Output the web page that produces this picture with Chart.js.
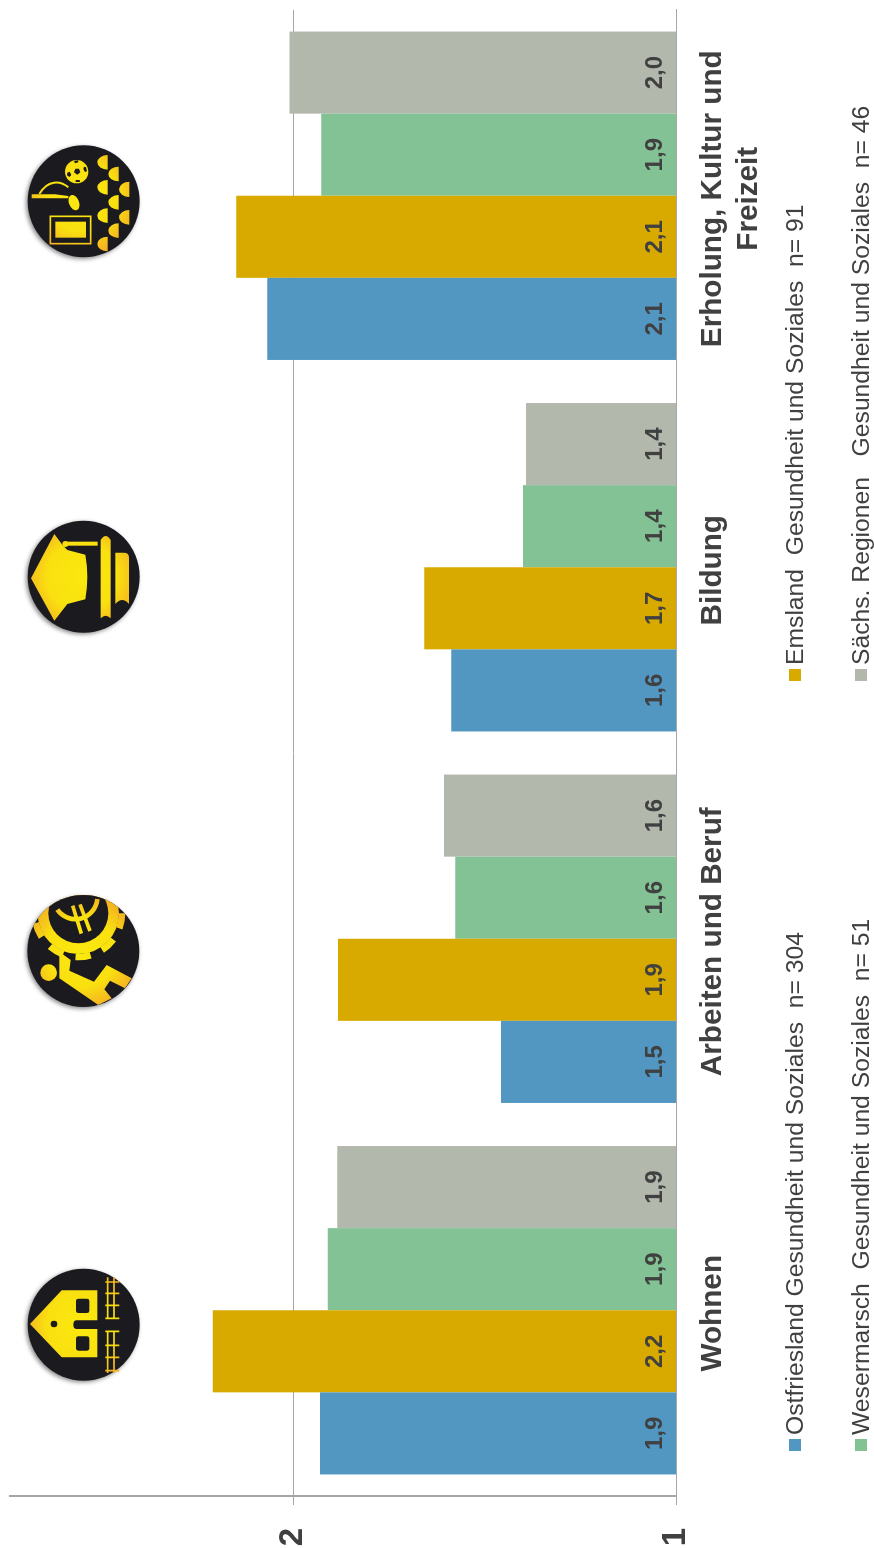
<!DOCTYPE html>
<html>
<head>
<meta charset="utf-8">
<script src="https://cdn.jsdelivr.net/npm/chart.js@4"></script>
<style>
  html, body { margin: 0; padding: 0; background: #fff; overflow: hidden; width: 874px; height: 1548px; }
  /* the whole chart is turned on its side in the original */
  #wrap { position: absolute; left: 0; top: 0; width: 1548px; height: 874px; transform-origin: 0 0; transform: translate(0, 1548px) rotate(-90deg); }
  svg.icon { position: absolute; width: 150px; height: 140px; left: 10px; }
</style>
</head>
<body>
<div id="wrap"><canvas id="myChart" width="1548" height="874"></canvas></div>

<svg width="0" height="0" style="position:absolute">
  <defs>
    <radialGradient id="gold" gradientUnits="userSpaceOnUse" cx="215" cy="200" r="175">
      <stop offset="0" stop-color="#fbe90e"/>
      <stop offset="0.6" stop-color="#f9e010"/>
      <stop offset="1" stop-color="#f4b022"/>
    </radialGradient>
    <clipPath id="disc"><circle cx="220" cy="198" r="168"/></clipPath>
    <filter id="soft" x="-20%" y="-20%" width="140%" height="140%"><feGaussianBlur stdDeviation="6"/></filter>
  </defs>
</svg>

<!-- Erholung -->
<svg class="icon" style="top:130px" viewBox="0 0 450 420">
  <circle cx="216" cy="219" r="168" fill="#8a8a8a" filter="url(#soft)"/>
  <circle cx="221" cy="214" r="168" fill="#1b1a1f"/>
  <g fill="url(#gold)">
    <circle cx="200" cy="125" r="35"/>
    <path d="M293 75v44a31 22 0 0 1 0-44zM326 110v44a31 22 0 0 1 0-44zM293 150v44a31 22 0 0 1 0-44zM358 155v46a31 23 0 0 1 0-46zM326 195v44a31 22 0 0 1 0-44zM293 235v44a31 22 0 0 1 0-44zM358 240v44a31 22 0 0 1 0-44zM326 280v44a31 22 0 0 1 0-44zM293 320v44a31 22 0 0 1 0-44z"/>
    <path d="M65 193h70l40 5v7h-110z"/>
    <ellipse cx="192" cy="218" rx="15" ry="24" transform="rotate(-22 192 218)"/>
    <rect x="136" y="275" width="92" height="48"/>
  </g>
  <path d="M88 192C112 150 150 150 175 172" fill="none" stroke="url(#gold)" stroke-width="6"/>
  <rect x="121" y="259" width="121" height="82" fill="none" stroke="url(#gold)" stroke-width="5"/>
  <g fill="#1b1a1f">
    <path d="M196 116l11 0 4 11-9 7-10-7zM172 128l7-3 5 10-6 6-7-5zM222 110l6 2 3 12-6 2-5-9zM192 93l12-2 1 6-10 3zM197 150l12 0 1 6-13 0z"/>
  </g>
</svg>

<!-- Bildung -->
<svg class="icon" style="top:510px" viewBox="0 0 450 420">
  <circle cx="216" cy="205" r="168" fill="#8a8a8a" filter="url(#soft)"/>
  <circle cx="221" cy="200" r="168" fill="#1b1a1f"/>
  <g fill="url(#gold)">
    <path d="M63 205L133 72 158 106 172 120 226 134Q238 200 226 268L172 282 133 332z"/>
    <rect x="165" y="95" width="98" height="12"/>
    <circle cx="166" cy="102" r="9"/>
    <path d="M272 90q15-24 30 0V325q-15-16-30 0z"/>
    <path d="M316 128h26q15 0 15 15V282q-20-24-41 0z"/>
  </g>
</svg>

<!-- Arbeiten -->
<svg class="icon" style="top:885px" viewBox="0 0 450 420">
  <circle cx="216" cy="203" r="168" fill="#8a8a8a" filter="url(#soft)"/>
  <circle cx="220" cy="198" r="168" fill="#1b1a1f"/>
  <g clip-path="url(#disc)">
    <circle cx="205" cy="85" r="122" fill="url(#gold)"/>
    <circle cx="205" cy="85" r="131" fill="none" stroke="url(#gold)" stroke-width="20" stroke-dasharray="46 38"/>
    <circle cx="205" cy="85" r="90" fill="#1b1a1f"/>
    <path d="M142 74A66 66 0 0 0 262 42" fill="none" stroke="url(#gold)" stroke-width="14"/>
    <path d="M188 62L214 146M210 58L240 138" fill="none" stroke="url(#gold)" stroke-width="11"/>
    <circle cx="116" cy="263" r="25" fill="url(#gold)"/>
    <path d="M148 200L148 280 265 360 305 340 283 313 300 287 345 310 365 280 290 240 252 290 178 257 182 225z" fill="url(#gold)"/>
  </g>
</svg>

<!-- Wohnen -->
<svg class="icon" style="top:1258px" viewBox="0 0 450 420">
  <circle cx="216" cy="205" r="168" fill="#8a8a8a" filter="url(#soft)"/>
  <circle cx="221" cy="200" r="168" fill="#1b1a1f"/>
  <path fill="url(#gold)" d="M60 198L155 97H262V187H200Q190 187 190 200T200 213H262V298H155z"/>
  <g fill="#1b1a1f">
    <rect x="198" y="122" width="40" height="43" rx="7"/>
    <rect x="198" y="235" width="40" height="43" rx="7"/>
    <circle cx="132" cy="198" r="10"/>
  </g>
  <path fill="none" stroke="url(#gold)" stroke-width="5" d="M293 58V183M312 58V183M293 218V345M312 218V345M286 72H328M286 106H328M286 142H328M286 181H328M286 220H328M286 262H328M286 298H328M286 338H328"/>
</svg>

<script>
const categories = ['Wohnen', 'Arbeiten und Beruf', 'Bildung', ['Erholung, Kultur und', 'Freizeit']];
const seriesLabels = [
  'Ostfriesland Gesundheit und Soziales  n= 304',
  'Emsland  Gesundheit und Soziales  n= 91',
  'Wesermarsch  Gesundheit und Soziales  n= 51',
  'Sächs. Regionen   Gesundheit und Soziales  n= 46'
];
const ostfriesland = [1.93, 1.457, 1.587, 2.068];
const emsland = [2.21, 1.883, 1.658, 2.149];
const wesermarsch = [1.91, 1.577, 1.40, 1.927];
const saechsRegionen = [1.885, 1.606, 1.392, 2.01];
const valueTicks = [1, 2];
const seriesColors = ['#5296c2', '#d8aa00', '#82c294', '#b3b8ad'];

const textColor = '#404040';
const lineColor = '#a6a6a6';
const fontName = '"Liberation Sans", Arial, sans-serif';

// value printed at the foot of each bar
const barLabels = {
  id: 'barLabels',
  afterDatasetsDraw(chart) {
    const ctx = chart.ctx;
    const base = chart.scales.y.getPixelForValue(1);
    ctx.save();
    ctx.font = 'bold 24px ' + fontName;
    ctx.fillStyle = textColor;
    ctx.textAlign = 'center';
    ctx.textBaseline = 'alphabetic';
    chart.data.datasets.forEach((ds, i) => {
      chart.getDatasetMeta(i).data.forEach((bar, j) => {
        ctx.fillText(ds.data[j].toFixed(1).replace('.', ','), bar.x, base - 14);
      });
    });
    ctx.restore();
  }
};

// two column legend under the category labels
const legendGrid = {
  id: 'legendGrid',
  afterDraw(chart) {
    const ctx = chart.ctx;
    const colX = [97, 867];
    const rowBase = [803, 869];
    ctx.save();
    ctx.font = '24.7px ' + fontName;
    ctx.textBaseline = 'alphabetic';
    ctx.textAlign = 'left';
    chart.data.datasets.forEach((ds, i) => {
      const x = colX[i % 2];
      const y = rowBase[Math.floor(i / 2)];
      ctx.fillStyle = ds.backgroundColor;
      ctx.fillRect(x, y - 14, 12, 12);
      ctx.fillStyle = textColor;
      ctx.fillText(ds.label, x + 16, y);
    });
    ctx.restore();
  }
};

const data = {
  labels: categories,
  datasets: [ostfriesland, emsland, wesermarsch, saechsRegionen].map((values, i) => ({
    label: seriesLabels[i],
    data: values,
    backgroundColor: seriesColors[i],
    barPercentage: 1,
    categoryPercentage: 0.884
  }))
};

const config = {
  type: 'bar',
  data: data,
  plugins: [barLabels, legendGrid],
  options: {
    responsive: false,
    animation: false,
    layout: { padding: { top: 10, right: 10, left: 0, bottom: 0 } },
    plugins: { legend: { display: false }, tooltip: { enabled: false } },
    scales: {
      x: {
        grid: { display: false },
        border: { color: lineColor, width: 1 },
        ticks: { color: textColor, font: { family: fontName, size: 29.7, weight: 'bold' }, padding: 11, labelOffset: -3, maxRotation: 0, minRotation: 0 },
        afterFit(scale) { scale.height = 198; scale.paddingLeft = 0; scale.paddingRight = 0; }
      },
      y: {
        min: 1,
        max: 2.74,
        afterBuildTicks(scale) { scale.ticks = valueTicks.map(v => ({ value: v })); },
        grid: { color: lineColor, lineWidth: 1, tickLength: 9 },
        border: { color: lineColor, width: 2 },
        ticks: { color: textColor, font: { family: fontName, size: 33, weight: 'bold' }, padding: 23 },
        afterFit(scale) { scale.width = 52; scale.paddingTop = 0; scale.paddingBottom = 0; }
      }
    }
  }
};

const myChart = new Chart(document.getElementById('myChart'), config);
</script>
</body>
</html>
